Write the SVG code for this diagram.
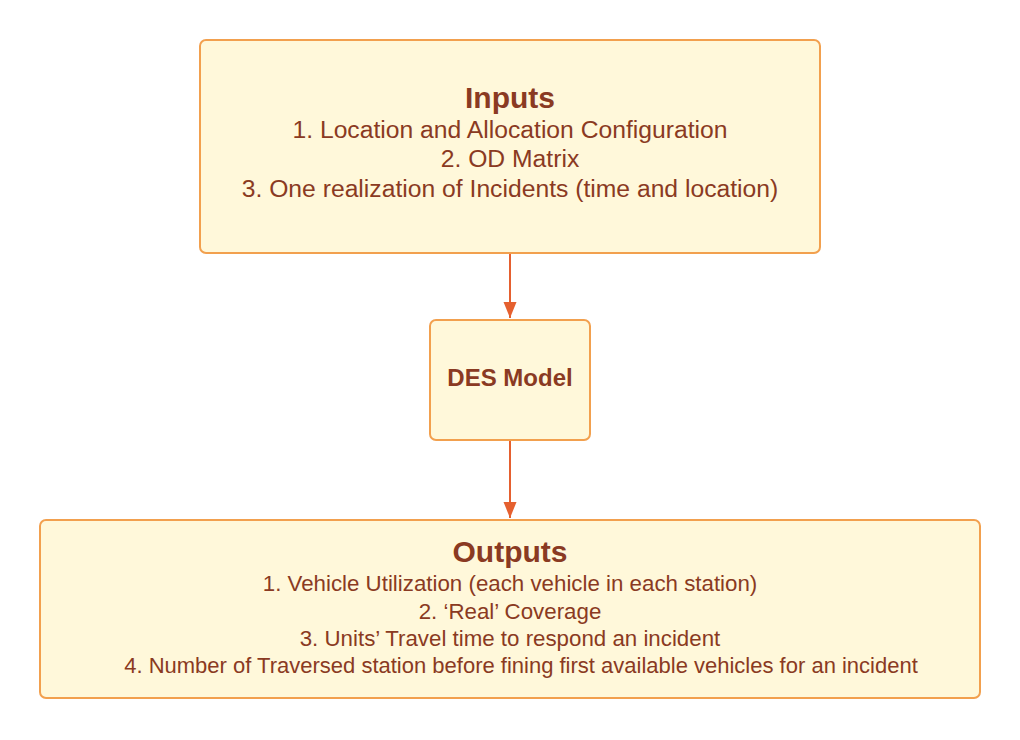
<svg xmlns="http://www.w3.org/2000/svg" width="1020" height="740" viewBox="0 0 1020 740">
<style>
.box{fill:#FFF8DA;stroke:#F2A04E;stroke-width:2}
.t{font-family:"Liberation Sans",Arial,sans-serif;fill:#8A3A22;text-anchor:middle}
.h{font-weight:bold;font-size:30px}
.l{font-size:24.7px}
.o{font-size:22.3px}
.c{stroke:#E5602F;stroke-width:2;fill:none}
</style>
<defs>
<marker id="ah" markerWidth="18" markerHeight="14" refX="16" refY="7" orient="auto" markerUnits="userSpaceOnUse">
<path d="M0,0.5 L16,7 L0,13.5 z" fill="#E5602F"/>
</marker>
</defs>
<rect width="1020" height="740" fill="#fff"/>
<g id="connectors">
<line class="c" x1="510" y1="254" x2="510" y2="318" marker-end="url(#ah)"/>
<line class="c" x1="510" y1="441" x2="510" y2="518" marker-end="url(#ah)"/>
</g>
<g id="inputs">
<rect class="box" x="200" y="40" width="620" height="213" rx="6"/>
<text class="t h" x="510" y="108">Inputs</text>
<text class="t l" x="510" y="138">1. Location and Allocation Configuration</text>
<text class="t l" x="510" y="167">2. OD Matrix</text>
<text class="t l" x="510" y="197">3. One realization of Incidents (time and location)</text>
</g>
<g id="des">
<rect class="box" x="430" y="320" width="160" height="120" rx="6"/>
<text class="t" x="510" y="386" style="font-weight:bold;font-size:24px">DES Model</text>
</g>
<g id="outputs">
<rect class="box" x="40" y="520" width="940" height="178" rx="6"/>
<text class="t h" x="510" y="562">Outputs</text>
<text class="t o" x="510" y="591">1. Vehicle Utilization (each vehicle in each station)</text>
<text class="t o" x="510" y="619">2. ‘Real’ Coverage</text>
<text class="t o" x="510" y="646">3. Units’ Travel time to respond an incident</text>
<text class="t o" x="521" y="673" style="font-size:22px">4. Number of Traversed station before fining first available vehicles for an incident</text>
</g>
</svg>
